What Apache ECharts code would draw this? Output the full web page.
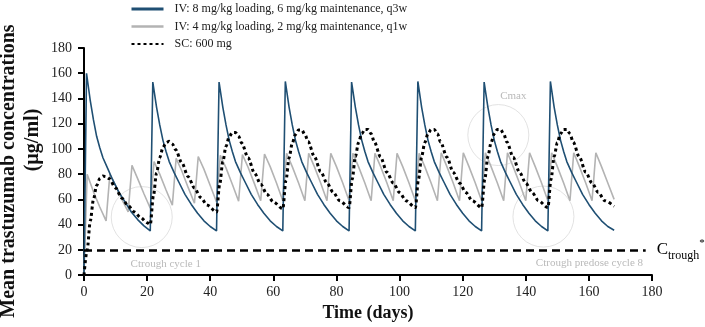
<!DOCTYPE html>
<html>
<head>
<meta charset="utf-8">
<script src="https://cdn.jsdelivr.net/npm/echarts@6/dist/echarts.min.js"></script>
<style>
  html, body { margin: 0; padding: 0; background: #fff; }
  #main { width: 705px; height: 327px; }
</style>
</head>
<body>
<div id="main"></div>
<script>
// series names (legend order)
var seriesNames = [
  'IV: 8 mg/kg loading, 6 mg/kg maintenance, q3w',
  'IV: 4 mg/kg loading, 2 mg/kg maintenance, q1w',
  'SC: 600 mg'
];

// [day, mean concentration µg/ml]
var ivHigh = [
  [0, 0], [0.8, 160], [2, 138], [3, 123], [4, 110], [5, 101], [6, 93], [7.6, 84], [9, 76], [11, 66], [13, 58], [15, 50], [17, 44], [19, 39],
  [21, 35], [21.8, 153], [23, 133], [24, 119], [25, 107], [26, 98], [27, 90], [28.6, 81], [30, 74], [32, 64], [34, 56], [36, 49], [38, 43], [40, 38.5],
  [42, 35], [42.8, 153], [44, 133], [45, 119], [46, 107], [47, 98], [48, 90], [49.6, 81], [51, 74], [53, 64], [55, 56], [57, 49], [59, 43], [61, 38.5],
  [63, 35], [63.8, 153.5], [65, 133], [66, 119], [67, 107], [68, 98], [69, 90], [70.6, 81], [72, 74], [74, 64], [76, 56], [78, 49], [80, 43], [82, 38.5],
  [84, 35], [84.8, 153], [86, 133], [87, 119], [88, 107], [89, 98], [90, 90], [91.6, 81], [93, 74], [95, 64], [97, 56], [99, 49], [101, 43], [103, 38.5],
  [105, 35], [105.8, 153.5], [107, 133], [108, 119], [109, 107], [110, 98], [111, 90], [112.6, 81], [114, 74], [116, 64], [118, 56], [120, 49], [122, 43], [124, 38.5],
  [126, 35], [126.8, 153], [128, 133], [129, 119], [130, 107], [131, 98], [132, 90], [133.6, 81], [135, 74], [137, 64], [139, 56], [141, 49], [143, 43], [145, 38.5],
  [147, 35], [147.8, 153.5], [149, 133], [150, 119], [151, 107], [152, 98], [153, 90], [154.6, 81], [156, 74], [158, 64], [160, 56], [162, 49], [164, 43], [166, 38.5],
  [168, 35.5]
];

var ivLow = [
  [0, 0], [1, 80], [3, 66], [5, 54],
  [7, 43], [8.2, 80], [10, 71], [12, 60],
  [14, 50], [15.2, 87], [17, 76.5], [19, 64.5],
  [21, 53], [22.2, 90], [24, 80], [26, 67.5],
  [28, 55.5], [29.2, 92.5], [31, 82.5], [33, 69.5],
  [35, 57], [36.2, 94], [38, 84], [40, 71],
  [42, 58], [43.2, 95], [45, 85], [47, 72],
  [49, 58.5], [50.2, 95.5], [52, 85.5], [54, 72.5],
  [56, 59], [57.2, 96], [59, 86], [61, 73],
  [63, 59], [64.2, 96.5], [66, 86], [68, 73],
  [70, 59], [71.2, 96.5], [73, 86], [75, 73],
  [77, 59], [78.2, 96.5], [80, 86], [82, 73],
  [84, 59], [85.2, 96.5], [87, 86], [89, 73],
  [91, 59], [92.2, 96.5], [94, 86], [96, 73],
  [98, 59], [99.2, 96.5], [101, 86], [103, 73],
  [105, 59], [106.2, 96.5], [108, 86], [110, 73],
  [112, 59], [113.2, 97], [115, 86], [117, 73],
  [119, 59], [120.2, 97], [122, 86], [124, 73],
  [126, 59], [127.2, 97], [129, 86], [131, 73],
  [133, 59], [134.2, 97], [136, 86], [138, 73],
  [140, 59], [141.2, 97], [143, 86], [145, 73],
  [147, 59], [148.2, 97], [150, 86], [152, 73],
  [154, 59], [155.2, 97], [157, 86], [159, 73],
  [161, 59], [162.2, 97], [164, 86], [166, 73],
  [168, 60]
];

var sc = [
  [0, 0], [1, 20], [2, 43], [3, 60], [4, 71], [5, 76.5], [6, 78.5], [7, 78], [8, 76.5], [10, 69], [12, 61], [14, 55], [16, 50], [18, 45.5], [20, 41.5],
  [21, 40], [22, 63], [23, 81], [24, 93], [25, 101], [26, 105], [27, 106], [28, 104], [29, 99.5], [31, 89], [33, 78], [35, 69], [37, 61.5], [39, 55.5],
  [42, 50], [43, 72], [44, 90], [45, 102], [46, 109.5], [47, 113], [48, 113], [49, 110], [50, 104.5], [52, 93], [54, 81], [56, 72], [58, 64], [60, 58],
  [63, 52.5], [64, 75], [65, 93], [66, 104.5], [67, 111.5], [68, 115], [69, 115], [70, 111.5], [71, 106], [73, 94], [75, 82], [77, 73], [79, 65.5], [81, 59],
  [84, 53.5], [85, 76], [86, 94], [87, 105], [88, 112], [89, 115.5], [90, 115.5], [91, 112], [92, 105.5], [94, 93.5], [96, 81.5], [98, 73], [100, 65.5], [102, 59],
  [105, 53.5], [106, 76], [107, 94], [108, 105], [109, 112], [110, 115.5], [111, 115.5], [112, 112], [113, 105.5], [115, 93.5], [117, 81.5], [119, 73], [121, 65.5], [123, 59],
  [126, 53.5], [127, 76], [128, 94], [129, 105], [130, 112], [131, 115.5], [132, 115.5], [133, 112], [134, 105.5], [136, 93.5], [138, 81.5], [140, 73], [142, 65.5], [144, 59],
  [147, 53.5], [148, 76], [149, 94], [150, 105], [151, 112], [152, 115.5], [153, 115.5], [154, 112], [155, 105.5], [157, 93.5], [159, 81.5], [161, 73], [163, 65.5], [165, 59],
  [168, 54.5]
];

// threshold line
var troughLevel = 20;
var troughLineEnd = 178;

// annotation circles: [day, conc] centre and text
var annotPos = [[18.3, 46], [131.3, 111], [145.6, 46.4]];
var annotText = ['Ctrough cycle 1', 'Cmax', 'Ctrough predose cycle 8'];

var serif = '"Liberation Serif", "Times New Roman", serif';
var blue = '#1f4f73';
var grey = '#b3b3b3';

var chart = echarts.init(document.getElementById('main'));

var annotOffsets = [[24, 47], [15, -39], [46, 47]];
var annotData = annotPos.map(function (p, i) {
  return {
    value: p,
    name: annotText[i],
    label: { offset: annotOffsets[i] }
  };
});

var option = {
  animation: false,
  grid: { left: 84, right: 53, top: 48, bottom: 49.5 },
  legend: {
    orient: 'vertical',
    left: 125,
    top: -2,
    itemWidth: 32,
    itemHeight: 14,
    itemGap: 5.5,
    itemStyle: { opacity: 0 },
    textStyle: { fontFamily: serif, fontSize: 12, color: '#222', padding: [0, 0, 0, 6] },
    data: [
      { name: seriesNames[0], lineStyle: { width: 3 } },
      { name: seriesNames[1], lineStyle: { width: 2.5 } },
      { name: seriesNames[2] }
    ]
  },
  xAxis: {
    type: 'value',
    min: 0, max: 180, interval: 20,
    name: 'Time (days)',
    nameLocation: 'middle',
    nameGap: 24,
    nameTextStyle: { fontFamily: serif, fontSize: 18, fontWeight: 'bold', color: '#111' },
    axisLine: { lineStyle: { color: '#000', width: 2 } },
    axisTick: { lineStyle: { color: '#000', width: 2 }, length: 6 },
    axisLabel: { fontFamily: serif, fontSize: 14, color: '#222', margin: 10 },
    splitLine: { show: false }
  },
  yAxis: {
    type: 'value',
    min: 0, max: 180, interval: 20,
    axisLine: { show: true, lineStyle: { color: '#000', width: 2 } },
    axisTick: { show: true, lineStyle: { color: '#000', width: 2 }, length: 6 },
    axisLabel: { fontFamily: serif, fontSize: 14, color: '#222', margin: 12 },
    splitLine: { show: false }
  },
  graphic: [
    {
      type: 'text', x: 9, y: 171, rotation: Math.PI / 2,
      style: {
        text: 'Mean trastuzumab concentrations',
        fontFamily: serif, fontSize: 20, fontWeight: 'bold', fill: '#111',
        align: 'center', verticalAlign: 'middle'
      }
    },
    {
      type: 'text', x: 33, y: 140, rotation: Math.PI / 2,
      style: {
        text: '(µg/ml)',
        fontFamily: serif, fontSize: 20, fontWeight: 'bold', fill: '#111',
        align: 'center', verticalAlign: 'middle'
      }
    }
  ],
  series: [
    {
      type: 'scatter',
      silent: true,
      z: 1,
      symbol: 'circle',
      symbolSize: 61,
      itemStyle: { color: 'rgba(0,0,0,0)', borderColor: '#dadada', borderWidth: 1 },
      label: {
        show: true,
        position: 'inside',
        formatter: '{b}',
        fontFamily: serif,
        fontSize: 11,
        color: '#a8a8a8'
      },
      data: annotData
    },
    {
      name: seriesNames[1],
      type: 'line',
      symbol: 'none',
      z: 2,
      lineStyle: { color: grey, width: 1.6 },
      itemStyle: { color: grey },
      data: ivLow
    },
    {
      name: seriesNames[0],
      type: 'line',
      symbol: 'none',
      z: 3,
      lineStyle: { color: blue, width: 1.6 },
      itemStyle: { color: blue },
      data: ivHigh
    },
    {
      name: seriesNames[2],
      type: 'line',
      symbol: 'none',
      z: 4,
      smooth: 0.3,
      smoothMonotone: 'x',
      lineStyle: { color: '#000', width: 3, type: [3, 3] },
      itemStyle: { color: '#000' },
      data: sc,
      markLine: {
        silent: true,
        symbol: ['none', 'none'],
        lineStyle: { color: '#000', width: 2.5, type: [8, 5] },
        label: {
          show: true,
          position: 'end',
          distance: 11,
          formatter: '{c|C}{t|trough}{s|*}',
          rich: {
            c: { fontFamily: serif, fontSize: 17, color: '#000', lineHeight: 24 },
            t: { fontFamily: serif, fontSize: 12, color: '#000', verticalAlign: 'bottom', padding: [8, 0, 0, 0] },
            s: { fontFamily: serif, fontSize: 11, color: '#000', verticalAlign: 'top', padding: [0, 0, 8, 0] }
          }
        },
        data: [[{ coord: [0, troughLevel] }, { coord: [troughLineEnd, troughLevel] }]]
      }
    }
  ]
};

chart.setOption(option);
</script>
</body>
</html>
